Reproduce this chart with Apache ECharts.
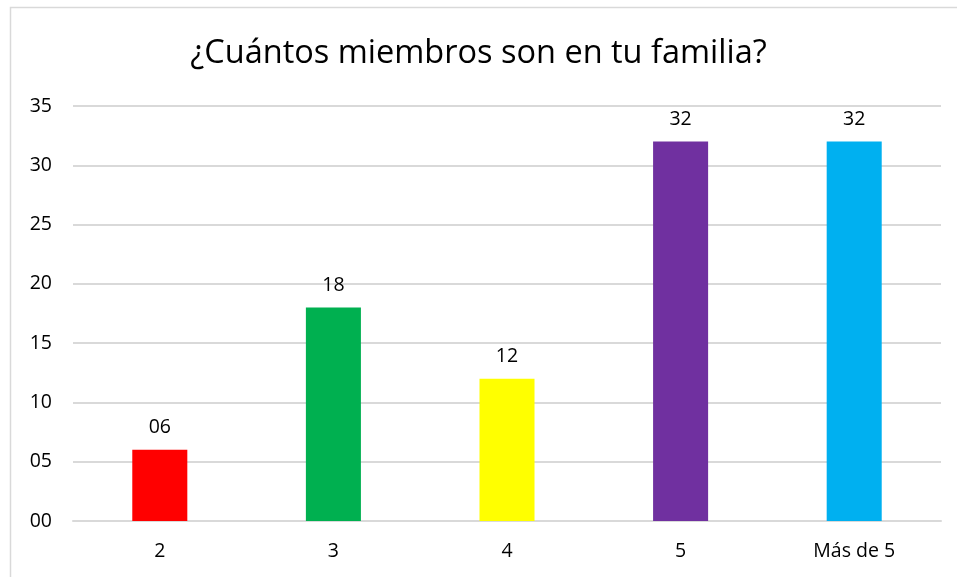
<!DOCTYPE html>
<html>
<head>
<meta charset="utf-8">
<script src="https://cdn.jsdelivr.net/npm/echarts@6/dist/echarts.min.js"></script>
<style>
  html, body { margin: 0; padding: 0; background: #fff; }
  #chart { width: 957px; height: 577px; }
</style>
</head>
<body>
<div id="chart"></div>
<script>
// data
const categories = ['2', '3', '4', '5', 'Más de 5'];
const members = [6, 18, 12, 32, 32];
const barColors = ['#FF0000', '#00B050', '#FFFF00', '#7030A0', '#00B0F0'];

const pad2 = v => String(v).padStart(2, '0');

const chart = echarts.init(document.getElementById('chart'));
const font = '"Open Sans", sans-serif';

chart.setOption({
  backgroundColor: '#fff',
  textStyle: { fontFamily: font },
  graphic: [{
    type: 'rect',
    shape: { x: 10.5, y: 7.5, width: 1000, height: 1000 },
    style: { fill: 'none', stroke: '#d9d9d9', lineWidth: 1.5 },
    silent: true
  }],
  title: {
    text: '¿Cuántos miembros son en tu familia?',
    left: 'center',
    top: 32,
    textStyle: { fontFamily: font, fontSize: 32.5, fontWeight: 'normal', color: '#000' }
  },
  grid: { left: 73, right: 16, top: 106, bottom: 56, containLabel: false },
  xAxis: {
    type: 'category',
    data: categories,
    axisLine: { show: true, lineStyle: { color: '#d9d9d9', width: 2 } },
    axisTick: { show: false },
    axisLabel: { color: '#000', fontSize: 19.5, margin: 20, fontFamily: font }
  },
  yAxis: {
    type: 'value',
    min: 0,
    max: 35,
    interval: 5,
    axisLine: { show: false },
    axisTick: { show: false },
    splitLine: { lineStyle: { color: '#d9d9d9', width: 2 } },
    axisLabel: { color: '#000', fontSize: 19.5, margin: 21, fontFamily: font, formatter: pad2 }
  },
  series: [{
    type: 'bar',
    barWidth: '31.7%',
    data: members.map((v, i) => ({ value: v, itemStyle: { color: barColors[i] } })),
    label: {
      show: true,
      position: 'top',
      distance: 12,
      color: '#000',
      fontSize: 19.5,
      fontFamily: font,
      formatter: p => pad2(p.value)
    }
  }]
});
</script>
</body>
</html>
